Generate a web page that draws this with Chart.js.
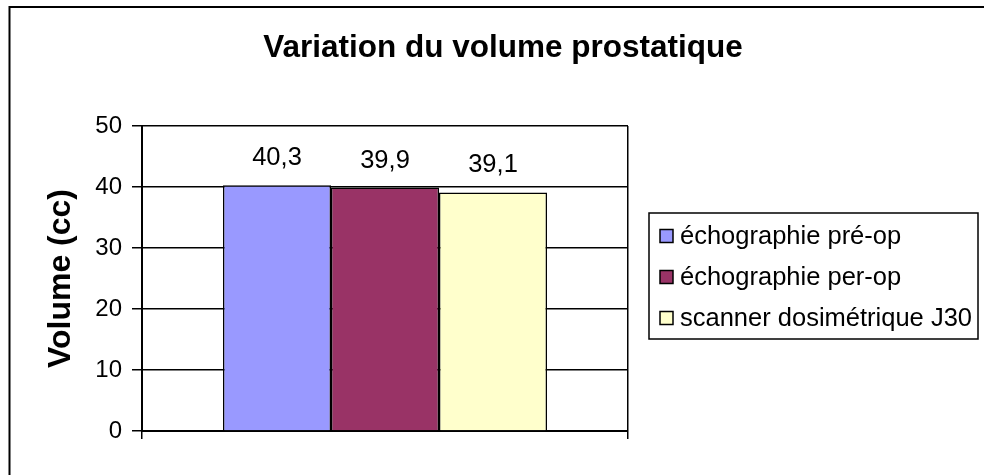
<!DOCTYPE html>
<html>
<head>
<meta charset="utf-8">
<script src="https://cdn.jsdelivr.net/npm/chart.js@4/dist/chart.umd.min.js"></script>
<style>
    html, body { margin: 0; padding: 0; background: #fff; }
    canvas { display: block; }
</style>
</head>
<body>
<canvas id="graphic-volume" width="984" height="475"></canvas>
<script>
// data
const chartTitle = 'Variation du volume prostatique'
const axisTitle = 'Volume (cc)'
const categories = ['']
const seriesNames = ['échographie pré-op', 'échographie per-op', 'scanner dosimétrique J30']
const seriesValues = [40.3, 39.9, 39.1]
const seriesColors = ['#9999ff', '#993366', '#ffffcc']
const yTicks = { min: 0, max: 50, step: 10 }

const FONT = '"Liberation Sans", Arial, sans-serif'

// cadre + titre
const framePlugin = {
    id: 'frame',
    beforeDraw(chart) {
        const ctx = chart.ctx
        ctx.save()
        ctx.fillStyle = '#fff'
        ctx.fillRect(0, 0, chart.width, chart.height)
        ctx.strokeStyle = '#000'
        ctx.lineWidth = 2
        ctx.strokeRect(9.5, 7, chart.width + 50, chart.height + 50)
        ctx.restore()
    },
    afterDraw(chart) {
        const ctx = chart.ctx
        ctx.save()
        ctx.fillStyle = '#000'
        ctx.font = 'bold 31.5px ' + FONT
        ctx.textAlign = 'center'
        ctx.textBaseline = 'alphabetic'
        ctx.fillText(chartTitle, 503, 57)
        ctx.restore()
    }
}

// étiquettes de valeurs au-dessus des barres
const valueLabels = {
    id: 'valueLabels',
    afterDatasetsDraw(chart) {
        const ctx = chart.ctx
        ctx.save()
        ctx.fillStyle = '#000'
        ctx.font = '25.5px ' + FONT
        ctx.textAlign = 'center'
        ctx.textBaseline = 'alphabetic'
        chart.data.datasets.forEach(function (ds, i) {
            chart.getDatasetMeta(i).data.forEach(function (bar, j) {
                ctx.fillText(String(ds.data[j]).replace('.', ','), bar.x, bar.y - 20)
            })
        })
        ctx.restore()
    }
}

// légende encadrée à droite
const boxLegend = {
    id: 'boxLegend',
    afterDraw(chart) {
        const ctx = chart.ctx
        const x = 649, y = 213, w = 329, h = 126
        ctx.save()
        ctx.strokeStyle = '#000'
        ctx.lineWidth = 1.5
        ctx.strokeRect(x, y, w, h)
        ctx.font = '25.5px ' + FONT
        ctx.textAlign = 'left'
        ctx.textBaseline = 'middle'
        chart.data.datasets.forEach(function (ds, i) {
            const cy = 236 + i * 41
            ctx.fillStyle = ds.backgroundColor
            ctx.fillRect(660, cy - 6.5, 13, 13)
            ctx.strokeRect(660, cy - 6.5, 13, 13)
            ctx.fillStyle = '#000'
            ctx.fillText(ds.label, 680, cy + 1)
        })
        ctx.restore()
    }
}

new Chart(document.getElementById('graphic-volume'), {
    type: 'bar',
    data: {
        labels: categories,
        datasets: seriesNames.map(function (name, i) {
            return {
                label: name,
                data: [seriesValues[i]],
                backgroundColor: seriesColors[i],
                borderColor: '#000',
                borderWidth: 1.5,
                categoryPercentage: 2 / 3,
                barPercentage: 1
            }
        })
    },
    options: {
        responsive: false,
        animation: false,
        layout: {
            padding: { top: 126, right: 356, bottom: 36, left: 0 }
        },
        plugins: {
            legend: { display: false },
            title: { display: false },
            tooltip: { enabled: false }
        },
        scales: {
            x: {
                grid: {
                    color: '#000',
                    lineWidth: 1.5,
                    tickLength: 8,
                    offset: true
                },
                border: { color: '#000', width: 2 },
                ticks: { display: false },
                afterFit(scale) { scale.height = 8 }
            },
            y: {
                min: yTicks.min,
                max: yTicks.max,
                grid: {
                    color: '#000',
                    lineWidth: 1.5,
                    tickLength: 10
                },
                border: { color: '#000', width: 2 },
                ticks: {
                    stepSize: yTicks.step,
                    color: '#000',
                    padding: 10,
                    font: { family: FONT, size: 24 }
                },
                title: {
                    display: true,
                    text: axisTitle,
                    color: '#000',
                    font: { family: FONT, size: 32, weight: 'bold' },
                    padding: { top: 42, bottom: 0 }
                },
                afterFit(scale) { scale.width = 142 }
            }
        }
    },
    plugins: [framePlugin, valueLabels, boxLegend]
});
</script>
</body>
</html>
